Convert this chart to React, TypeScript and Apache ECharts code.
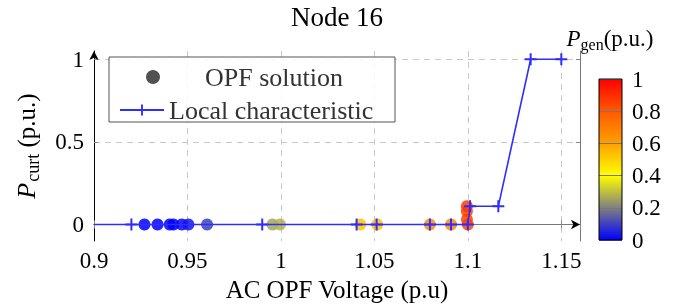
import React, { useEffect, useRef } from "react";
import * as echarts from "echarts";

// OPF solution: [voltage, P_curt, P_gen]
const opfVoltage = [0.927, 0.934, 0.9405, 0.9425, 0.947, 0.9505, 0.9605, 0.9955, 0.9995, 1.0425, 1.0515, 1.0797, 1.091, 1.1, 1.0995, 1.0995, 1.0995];
const opfCurt = [0, 0, 0, 0, 0, 0, 0, 0, 0, 0, 0, 0, 0, 0, 0.03, 0.08, 0.11];
const opfGen = [0, 0, 0, 0, 0.01, 0.03, 0.1, 0.26, 0.28, 0.52, 0.53, 0.65, 0.67, 0.84, 0.85, 0.86, 0.87];

// Local characteristic
const charVoltage = [0.9, 0.92, 0.99, 1.0405, 1.0512, 1.0797, 1.091, 1.1, 1.1012, 1.1163, 1.1336, 1.15];
const charCurt = [0, 0, 0, 0, 0, 0, 0, 0, 0.11, 0.11, 1, 1];

const xTicks = [0.9, 0.95, 1, 1.05, 1.1, 1.15];
const yTicks = [0, 0.5, 1];
const cbarTicks = [0, 0.2, 0.4, 0.6, 0.8, 1];
const colormap = ["#0000ff", "#808080", "#ffff00", "#ffa000", "#ff5a00", "#ff0000"];

const FONT = "'Liberation Serif', serif";
const PLUS = "path://M-1,-6H1V-1H6V1H1V6H-1V1H-6V-1H-1Z";
const fmt = (v: number) => String(+v.toFixed(2));

export default function App() {
  const ref = useRef<HTMLDivElement>(null);
  useEffect(() => {
    document.body.style.margin = "0";
    const chart = echarts.init(ref.current!, null, { renderer: "svg" });
    const scatterData = opfVoltage.map((v, i) => [v, opfCurt[i], opfGen[i]]);
    const lineData = charVoltage.map((v, i) =>
      i === 0 ? { value: [v, charCurt[i]], symbol: "none" } : [v, charCurt[i]]
    );
    const gradientStops = colormap
      .map((c, i) => ({ offset: 1 - i / (colormap.length - 1), color: c }))
      .reverse();
    const baseLabel = { fontFamily: FONT, fontSize: 23, color: "#000" };
    chart.setOption({
      animation: false,
      textStyle: { fontFamily: FONT },
      grid: [
        { left: 94, top: 51, width: 486, height: 190, show: false },
        { left: 599, top: 79, width: 23, height: 161, show: true, borderColor: "#000", borderWidth: 1, backgroundColor: "transparent", z: 10 },
      ],
      xAxis: [
        {
          type: "value", gridIndex: 0, min: 0.9, max: 1.16, interval: 0.05,
          name: "AC OPF Voltage (p.u)", nameLocation: "middle", nameGap: 34,
          nameTextStyle: { ...baseLabel, fontSize: 25 },
          axisLine: { show: true, lineStyle: { color: "#000", width: 1 }, symbol: ["none", "arrow"], symbolSize: [7, 9] },
          axisTick: { show: true, inside: true, length: 4, lineStyle: { color: "#888" } },
          axisLabel: { ...baseLabel, margin: 8, showMaxLabel: false, formatter: fmt },
          splitLine: { show: true, lineStyle: { color: "#c8c8c8", type: [6, 5] } },
        },
        {
          type: "value", gridIndex: 0, position: "top", min: 0.9, max: 1.16, interval: 0.05,
          axisLine: { show: true, lineStyle: { color: "#777", width: 1 } },
          axisTick: { show: true, inside: true, length: 4, lineStyle: { color: "#888" } },
          axisLabel: { show: false }, splitLine: { show: false },
        },
        {
          type: "category", gridIndex: 1, data: [""], show: false,
        },
      ],
      yAxis: [
        {
          type: "value", gridIndex: 0, min: -0.1, max: 1.05,
          name: "{i|P}{s|curt} (p.u.)", nameLocation: "middle", nameGap: 52, nameRotate: 90,
          nameTextStyle: {
            ...baseLabel, fontSize: 25,
            rich: {
              i: { fontFamily: FONT, fontSize: 26, fontStyle: "italic", lineHeight: 32, verticalAlign: "middle" },
              s: { fontFamily: FONT, fontSize: 18, lineHeight: 18, verticalAlign: "bottom", padding: [0, 0, 0, 1] },
            },
          },
          axisLine: { show: true, lineStyle: { color: "#000", width: 1 }, symbol: ["none", "arrow"], symbolSize: [7, 9] },
          axisTick: { show: true, inside: true, length: 4, customValues: yTicks, lineStyle: { color: "#888" } },
          axisLabel: { ...baseLabel, margin: 10, customValues: yTicks, formatter: fmt },
          splitLine: { show: true, lineStyle: { color: "#c8c8c8", type: [6, 5] } },
        },
        {
          type: "value", gridIndex: 0, position: "right", min: -0.1, max: 1.05,
          axisLine: { show: true, lineStyle: { color: "#777", width: 1 } },
          axisTick: { show: true, inside: true, length: 4, customValues: yTicks, lineStyle: { color: "#888" } },
          axisLabel: { show: false, customValues: yTicks }, splitLine: { show: false },
        },
        {
          type: "value", gridIndex: 1, position: "right", min: 0, max: 1, interval: 0.2, z: 6,
          axisLine: { show: false }, axisTick: { show: false },
          axisLabel: { ...baseLabel, margin: 10, formatter: fmt },
          splitLine: { show: true, lineStyle: { color: "#777", width: 1 } },
        },
      ],
      visualMap: {
        show: false, type: "continuous", seriesIndex: 0, dimension: 2, min: 0, max: 1,
        inRange: { color: colormap },
      },
      legend: [
        {
          data: [{ name: "OPF solution", icon: "circle" }], left: 146, top: 64, padding: 0,
          itemWidth: 14, itemHeight: 14,
          textStyle: { ...baseLabel, fontSize: 26, color: "#333", padding: [0, 0, 0, 40] },
        },
        {
          data: ["Local characteristic"], left: 119, top: 97, padding: 0,
          itemWidth: 44, itemHeight: 14,
          textStyle: { ...baseLabel, fontSize: 26, color: "#333" },
        },
      ],
      graphic: [
        {
          type: "rect", shape: { x: 109, y: 57, width: 286, height: 65 }, z: 3,
          style: { fill: "rgba(255,255,255,0.85)", stroke: "#555", lineWidth: 1 },
        },
        {
          type: "text", x: 337, y: 17, z: 5,
          style: { text: "Node 16", font: `27px 'Liberation Serif', serif`, fill: "#000", textAlign: "center", textVerticalAlign: "middle" },
        },
        {
          type: "text", x: 610, y: 38, z: 5,
          style: {
            text: "{i|P}{s|gen}{n|(p.u.)}", textAlign: "center", textVerticalAlign: "middle", fill: "#000",
            rich: {
              i: { fontFamily: FONT, fontSize: 23, fontStyle: "italic", lineHeight: 28, verticalAlign: "middle" },
              s: { fontFamily: FONT, fontSize: 16, lineHeight: 16, verticalAlign: "bottom" },
              n: { fontFamily: FONT, fontSize: 23, lineHeight: 28, verticalAlign: "middle" },
            },
          },
        },
      ],
      series: [
        {
          name: "OPF solution", type: "scatter", xAxisIndex: 0, yAxisIndex: 0,
          symbolSize: 12, data: scatterData,
          itemStyle: { color: "#333", opacity: 0.85 },
        },
        {
          name: "Local characteristic", type: "line", xAxisIndex: 0, yAxisIndex: 0,
          data: lineData, symbol: PLUS, symbolSize: 12,
          lineStyle: { color: "#2e2eff", width: 1.6 },
          itemStyle: { color: "#2e2eff" },
        },
        {
          name: "colorbar", type: "bar", xAxisIndex: 2, yAxisIndex: 2,
          data: [1], barWidth: "100%", silent: true,
          itemStyle: { color: { type: "linear", x: 0, y: 0, x2: 0, y2: 1, colorStops: gradientStops } },
        },
      ],
    });
    return () => chart.dispose();
  }, []);
  return <div ref={ref} style={{ position: "fixed", left: 0, top: 0, width: 689, height: 308 }} />;
}
